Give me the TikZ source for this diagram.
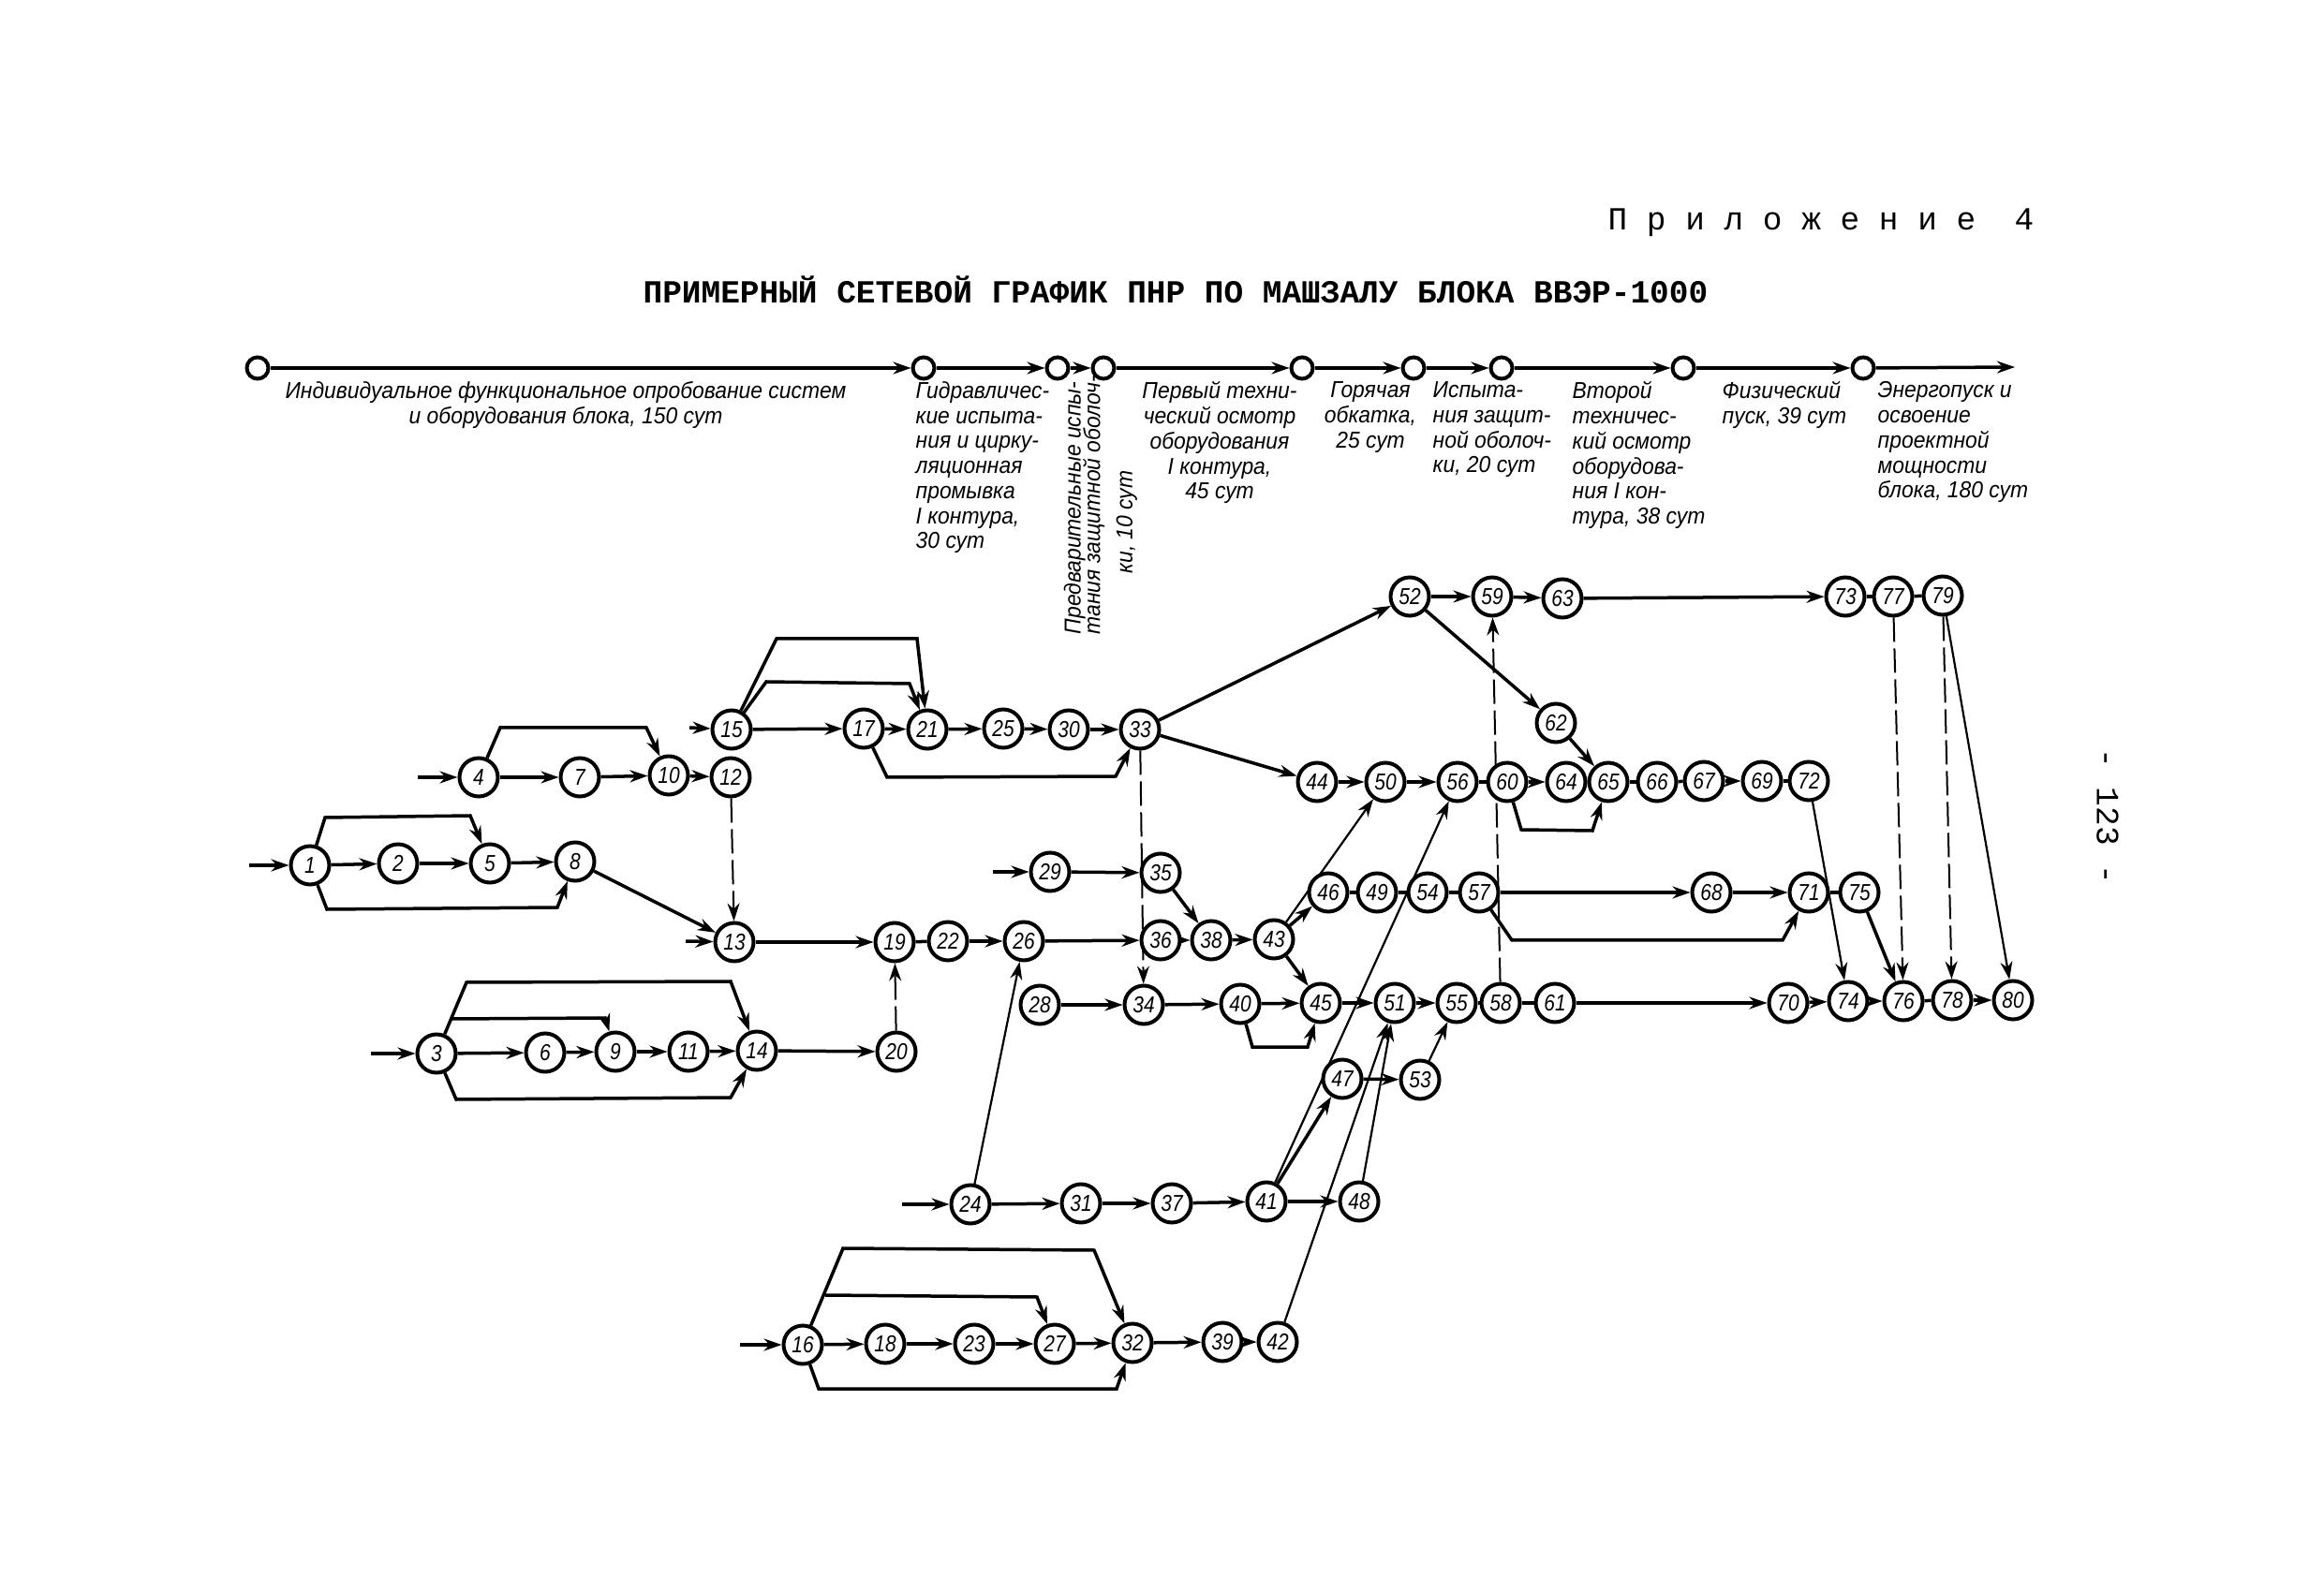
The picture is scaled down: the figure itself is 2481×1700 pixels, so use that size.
\documentclass[tikz,border=0pt]{standalone}
\usepackage{fontspec}
\setmainfont{Liberation Sans}
\newfontfamily\monofont{Liberation Mono}
\newfontfamily\numfont[FakeStretch=0.85]{Liberation Sans}
\newfontfamily\stagefont[FakeStretch=0.93]{Liberation Sans}
\usetikzlibrary{arrows.meta,positioning,backgrounds}
\tikzset{
  event/.style={circle,draw,fill=white,line width=0.4mm,minimum size=4.1mm,inner sep=0pt,font=\numfont\itshape\fontsize{7}{7}\selectfont},
  mark0/.style={circle,draw,fill=white,line width=0.4mm,minimum size=2.3mm,inner sep=0pt},
  work/.style={line width=0.35mm,-{Stealth[length=1.9mm,width=1.3mm]}},
  thinwork/.style={line width=0.22mm,-{Stealth[length=1.9mm,width=1.3mm]}},
  link/.style={line width=0.35mm},
  dummy/.style={line width=0.2mm,dash pattern=on 2.6mm off 0.7mm,-{Stealth[length=1.9mm,width=1.3mm]}},
  stagetext/.style={inner sep=0pt,font=\stagefont\itshape\fontsize{7}{7.6}\selectfont},
  headtext/.style={inner sep=0pt,font=\monofont\fontsize{9.8}{12}\selectfont}
}
\begin{document}
\begin{tikzpicture}[x=0.1mm,y=-0.1mm]
  \useasboundingbox (0,0) rectangle (2481,1700);
  % headings
  \node[headtext,anchor=east] (appendix) at (2172,238) {П р и л о ж е н и е\ \ 4};
  \node[headtext,font=\monofont\bfseries\fontsize{9.8}{12}\selectfont] (title) at (1255,309) {ПРИМЕРНЫЙ СЕТЕВОЙ ГРАФИК ПНР ПО МАШЗАЛУ БЛОКА ВВЭР-1000};
  \node[headtext,rotate=-90] (pagenum) at (2250,872) {- 123 -};
  % stages on the top line
  \foreach \name/\x in {t1/275,t2/986,t3/1129,t4/1178,t5/1390,t6/1509,t7/1603,t8/1797,t9/1989}
    \node[mark0] (\name) at (\x,393) {};
  \coordinate (tend) at (2151,392);
  \foreach \a/\b in {t1/t2,t2/t3,t3/t4,t4/t5,t5/t6,t6/t7,t7/t8,t8/t9,t9/tend}
    \draw[work] (\a) -- (\b);
  \node[stagetext,align=center,anchor=north] (s1) at (604,407) {Индивидуальное функциональное опробование систем\\и оборудования блока, 150 сут};
  \node[stagetext,align=left,anchor=north west] (s2) at (977,407) {Гидравличес-\\кие испыта-\\ния и цирку-\\ляционная\\промывка\\I контура,\\30 сут};
  \node[stagetext,align=left,anchor=north west,rotate=90] (s3) at (1135,678) {Предварительные испы-\\[-0.6mm]тания защитной оболоч-\\[0.8mm]\hspace*{6.5mm}ки, 10 сут};
  \node[stagetext,align=center,anchor=north] (s4) at (1302,407) {Первый техни-\\ческий осмотр\\оборудования\\I контура,\\45 сут};
  \node[stagetext,align=center,anchor=north] (s5) at (1463,407) {Горячая\\обкатка,\\25 сут};
  \node[stagetext,align=left,anchor=north west] (s6) at (1529,407) {Испыта-\\ния защит-\\ной оболоч-\\ки, 20 сут};
  \node[stagetext,align=left,anchor=north west] (s7) at (1678,407) {Второй\\техничес-\\кий осмотр\\оборудова-\\ния I кон-\\тура, 38 сут};
  \node[stagetext,align=left,anchor=north west] (s8) at (1838,407) {Физический\\пуск, 39 сут};
  \node[stagetext,align=left,anchor=north west] (s9) at (2004,407) {Энергопуск и\\освоение\\проектной\\мощности\\блока, 180 сут};
  % events
  \foreach \n/\x/\y in {1/331/924,2/425/922,5/523/922,8/614/920,
    4/511/830,7/619/830,10/714/828,12/780/830,
    15/781/779,17/922/778,21/990/779,25/1071/778,30/1141/779,33/1217/779,
    13/784/1006,19/955/1006,22/1012/1005,26/1093/1005,
    3/466/1125,6/582/1124,9/657/1123,11/735/1123,14/808/1122,20/957/1123,
    28/1110/1073,34/1221/1073,40/1324/1072,45/1410/1071,51/1489/1071,55/1555/1071,58/1602/1071,61/1660/1071,
    70/1909/1071,74/1973/1069,76/2032/1069,78/2084/1068,80/2149/1068,
    29/1121/931,35/1239/932,36/1239/1004,38/1293/1004,43/1360/1003,
    46/1418/953,49/1470/953,54/1524/953,57/1579/953,68/1827/953,71/1931/953,75/1985/953,
    44/1406/835,50/1479/835,56/1556/835,60/1609/835,64/1672/835,65/1717/835,66/1769/835,67/1819/834,69/1881/834,72/1931/834,
    52/1505/637,59/1593/637,63/1668/639,73/1970/637,77/2021/637,79/2074/636,62/1661/772,
    47/1433/1152,53/1516/1153,
    24/1036/1286,31/1154/1285,37/1251/1285,41/1352/1283,48/1451/1283,
    16/857/1436,18/945/1435,23/1040/1435,27/1126/1435,32/1209/1434,39/1305/1433,42/1364/1433}
    \node[event] (e\n) at (\x,\y) {\n};
  % free ends and branch points
  \coordinate (in1) at (266,924);
  \coordinate (in4) at (446,830);
  \coordinate (in15) at (736,777);
  \coordinate (in13) at (732,1005);
  \coordinate (in3) at (396,1125);
  \coordinate (in29) at (1060,931);
  \coordinate (in24) at (963,1286);
  \coordinate (in16) at (790,1436);
  \coordinate (b3) at (481,1088);
  \coordinate (b16) at (881,1383);
  \begin{scope}[on background layer]
    \foreach \n in {1,4,15,13,3,29,24,16}
      \draw[work] (in\n) -- (e\n);
    \foreach \a/\b in {1/2,2/5,5/8,4/7,7/10,10/12,15/17,17/21,21/25,25/30,30/33,8/13,13/19,22/26,26/36,
      3/6,6/9,9/11,11/14,14/20,28/34,34/40,40/45,45/51,51/55,61/70,70/74,74/76,78/80,
      29/35,35/38,36/38,38/43,43/45,43/46,44/50,50/56,60/64,67/69,33/44,33/52,52/59,59/63,63/73,
      52/62,62/65,57/68,68/71,75/76,41/48,47/53,24/31,31/37,37/41,41/47,16/18,18/23,23/27,27/32,32/39,39/42}
      \draw[work] (e\a) -- (e\b);
    \foreach \a/\b in {19/22,55/58,58/61,76/78,46/49,49/54,54/57,56/60,64/65,65/66,66/67,69/72,73/77,77/79,71/75}
      \draw[link] (e\a) -- (e\b);
    \foreach \a/\b in {24/26,43/50,41/56,42/51,48/51,53/55,72/74,79/80}
      \draw[thinwork] (e\a) -- (e\b);
    \foreach \a/\b in {12/13,20/19,33/34,58/59,77/76,79/78}
      \draw[dummy] (e\a) -- (e\b);
    % bypasses
    \draw[work] (e1) -- (347,873) -- (502,871) -- (e5);
    \draw[work] (e1) -- (349,971) -- (595,969) -- (e8);
    \draw[work] (e4) -- (534,777) -- (690,777) -- (e10);
    \draw[work] (e15) -- (829,682) -- (979,682) -- (e21);
    \draw[work] (e15) -- (818,728) -- (971,730) -- (e21);
    \draw[work] (e17) -- (947,830) -- (1191,829) -- (e33);
    \draw[work] (e3) -- (498,1049) -- (780,1048) -- (e14);
    \draw[work] (b3) -- (646,1087) -- (e9);
    \draw[work] (e3) -- (487,1174) -- (780,1172) -- (e14);
    \draw[work] (e40) -- (1337,1118) -- (1396,1118) -- (e45);
    \draw[work] (e60) -- (1624,886) -- (1700,887) -- (e65);
    \draw[work] (e57) -- (1614,1004) -- (1903,1004) -- (e71);
    \draw[work] (e16) -- (900,1333) -- (1168,1335) -- (e32);
    \draw[work] (b16) -- (1107,1385) -- (e27);
    \draw[work] (e16) -- (874,1483) -- (1192,1483) -- (e32);
  \end{scope}
\end{tikzpicture}
\end{document}
